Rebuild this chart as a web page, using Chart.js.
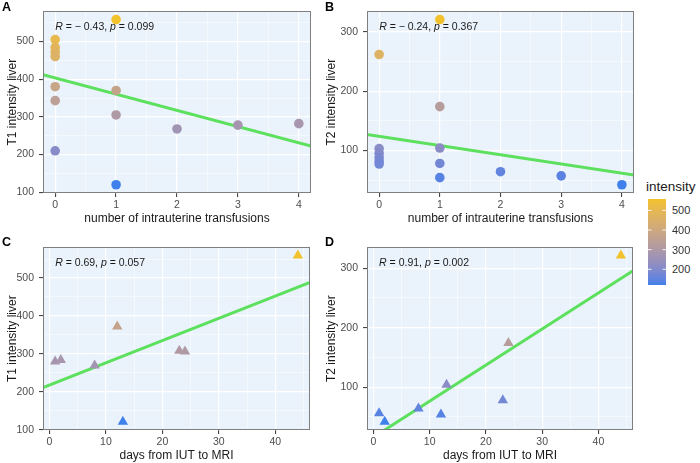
<!DOCTYPE html>
<html>
<head>
<meta charset="utf-8">
<script src="https://cdn.jsdelivr.net/npm/chart.js@4.4.1/dist/chart.umd.min.js"></script>
<style>
  html, body { margin: 0; padding: 0; background: #fff; }
  #wrap { position: relative; width: 700px; height: 463px; overflow: hidden;
          font-family: "Liberation Sans", Arial, sans-serif; }
  canvas.panel { position: absolute; }
  .tag { position: absolute; font-weight: bold; font-size: 12.5px; line-height: 1; color: #000; }
  .legTitle { position: absolute; left: 646px; top: 180px; font-size: 13.5px; line-height: 1; color: #1a1a1a; }
  .legLab { position: absolute; left: 672px; font-size: 11px; line-height: 1; color: #333; transform: translateY(-50%); }
  #legBar { position: absolute; left: 648px; top: 199px; }
</style>
</head>
<body>
<div id="wrap">
  <canvas id="cA" class="panel"></canvas>
  <canvas id="cB" class="panel"></canvas>
  <canvas id="cC" class="panel"></canvas>
  <canvas id="cD" class="panel"></canvas>
  <div class="tag" style="left:2px;top:1px">A</div>
  <div class="tag" style="left:325px;top:1px">B</div>
  <div class="tag" style="left:2px;top:236px">C</div>
  <div class="tag" style="left:325px;top:236px">D</div>
  <div class="legTitle">intensity</div>
  <canvas id="legBar" width="18" height="86"></canvas>
</div>
<script>
// ---- data ----
const transfusionsT1 = [0, 0, 0, 0, 0, 0, 0, 1, 1, 1, 1, 2, 3, 4];
const t1ByTransfusions = [505, 484, 472, 460, 380, 343, 210, 558, 370, 305, 120, 268, 278, 282];
const transfusionsT2 = [0, 0, 0, 0, 0, 0, 1, 1, 1, 1, 1, 2, 3, 4];
const t2ByTransfusions = [262, 103, 95, 88, 82, 77, 321, 174, 104, 78, 54, 64, 57, 42];
const daysT1 = [1, 2, 8, 12, 13, 23, 24, 44];
const t1ByDays = [280, 284, 269, 372, 121, 308, 306, 559];
const daysT2 = [1, 2, 8, 12, 13, 23, 24, 44];
const t2ByDays = [56, 42, 64, 54, 104, 78, 174, 321];

// regression lines as drawn: [intercept, slope]
const fitA = [403, -43];
const fitB = [123.6, -15.5];
const fitC = [217.5, 5.87];
const fitD = [16, 6.06];

const corrR = ["\u2212 0.43", "\u2212 0.24", "0.69", "0.91"];
const corrP = ["0.099", "0.367", "0.057", "0.002"];

const countTicks = [0, 1, 2, 3, 4];
const dayTicks = [0, 10, 20, 30, 40];
const t1Ticks = [100, 200, 300, 400, 500];
const t2Ticks = [100, 200, 300];
const legendTicks = [200, 300, 400, 500];

// ---- colour ramp (interpolated in Lab like ggplot) ----
const LOW = "#3F80EA", HIGH = "#F2C22C";
function hexRgb(h) {
  return [1, 3, 5].map(i => parseInt(h.substr(i, 2), 16) / 255);
}
function toLab(rgb) {
  const [r, g, b] = rgb.map(c => c <= 0.04045 ? c / 12.92 : Math.pow((c + 0.055) / 1.055, 2.4));
  const X = (0.4124 * r + 0.3576 * g + 0.1805 * b) / 0.95047;
  const Y = 0.2126 * r + 0.7152 * g + 0.0722 * b;
  const Z = (0.0193 * r + 0.1192 * g + 0.9505 * b) / 1.08883;
  const f = t => t > 0.008856 ? Math.cbrt(t) : 7.787 * t + 16 / 116;
  return [116 * f(Y) - 16, 500 * (f(X) - f(Y)), 200 * (f(Y) - f(Z))];
}
function fromLab([L, a, bb]) {
  const fy = (L + 16) / 116, fx = fy + a / 500, fz = fy - bb / 200;
  const inv = t => t * t * t > 0.008856 ? t * t * t : (t - 16 / 116) / 7.787;
  const X = inv(fx) * 0.95047, Y = inv(fy), Z = inv(fz) * 1.08883;
  let r = 3.2406 * X - 1.5372 * Y - 0.4986 * Z;
  let g = -0.9689 * X + 1.8758 * Y + 0.0415 * Z;
  let b = 0.0557 * X - 0.2040 * Y + 1.0570 * Z;
  const gam = c => {
    c = c <= 0.0031308 ? 12.92 * c : 1.055 * Math.pow(c, 1 / 2.4) - 0.055;
    return Math.round(Math.min(1, Math.max(0, c)) * 255);
  };
  return "rgb(" + gam(r) + "," + gam(g) + "," + gam(b) + ")";
}
const labLow = toLab(hexRgb(LOW)), labHigh = toLab(hexRgb(HIGH));
function ramp(t) {
  t = Math.min(1, Math.max(0, t));
  return fromLab(labLow.map((v, i) => v + (labHigh[i] - v) * t));
}

// ---- helpers ----
function expand(vals) {
  const lo = Math.min(...vals), hi = Math.max(...vals), d = (hi - lo) * 0.05;
  return [lo - d, hi + d];
}
function withMinor(major, lo, hi) {
  const step = major[1] - major[0];
  const out = major.slice();
  for (let v = major[0] - step / 2; v <= major[major.length - 1] + step; v += step) out.push(v);
  return out.filter(v => v >= lo && v <= hi).sort((a, b) => a - b);
}

const fontFam = "'Liberation Sans', Arial, sans-serif";

const bgPlugin = {
  id: "panelBg",
  beforeDraw(chart) {
    const { ctx, chartArea: a } = chart;
    ctx.save();
    ctx.fillStyle = "#EAF3FC";
    ctx.fillRect(a.left, a.top, a.right - a.left, a.bottom - a.top);
    ctx.restore();
  },
  afterDraw(chart, args, opts) {
    const { ctx, chartArea: a } = chart;
    ctx.save();
    ctx.strokeStyle = "#7f7f7f";
    ctx.lineWidth = 1;
    ctx.strokeRect(Math.round(a.left) + 0.5, Math.round(a.top) + 0.5,
      Math.round(a.right - a.left) - 1, Math.round(a.bottom - a.top) - 1);
    // correlation label
    const parts = [["R", true], [" = " + opts.r + ", ", false], ["p", true], [" = " + opts.p, false]];
    let x = chart.scales.x.getPixelForValue(opts.x0);
    const y = a.top + 16;
    ctx.fillStyle = "#1a1a1a";
    ctx.textBaseline = "middle";
    parts.forEach(([t, it]) => {
      ctx.font = (it ? "italic " : "") + "10.5px " + fontFam;
      ctx.fillText(t, x, y);
      x += ctx.measureText(t).width;
    });
    ctx.restore();
  }
};

function makePanel(id, pos, xs, ys, shape, fit, xMajor, yMajor, xTitle, yTitle, k) {
  const cv = document.getElementById(id);
  cv.width = pos.w; cv.height = pos.h;
  cv.style.left = pos.left + "px"; cv.style.top = pos.top + "px";

  const [xmin, xmax] = expand(xs);
  const [ymin, ymax] = expand(ys);
  const lo = Math.min(...ys), hi = Math.max(...ys);
  const colours = ys.map(v => ramp((v - lo) / (hi - lo)));
  const xAll = withMinor(xMajor, xmin, xmax);
  const yAll = withMinor(yMajor, ymin, ymax);
  const isMajorX = v => xMajor.includes(v);
  const isMajorY = v => yMajor.includes(v);

  const gridOpts = isMajor => ({
    color: "#ffffff",
    lineWidth: c => (c.tick && isMajor(c.tick.value)) ? 1.2 : 0.5,
    tickColor: c => (c.tick && isMajor(c.tick.value)) ? "#333333" : "rgba(0,0,0,0)",
    tickWidth: 1,
    tickLength: 4,
    drawTicks: true
  });

  return new Chart(cv, {
    type: "scatter",
    data: {
      datasets: [
        {
          data: xs.map((x, i) => ({ x: x, y: ys[i] })),
          pointStyle: shape,
          pointRadius: shape === "triangle" ? 6 : 4.8,
          backgroundColor: colours,
          borderWidth: 0,
          clip: false,
          order: 0
        },
        {
          data: [xmin, xmax].map(x => ({ x: x, y: fit[0] + fit[1] * x })),
          showLine: true,
          borderColor: "#5DE05D",
          borderWidth: 3,
          pointRadius: 0,
          clip: 0,
          order: 1
        }
      ]
    },
    options: {
      responsive: false,
      animation: false,
      events: [],
      layout: { padding: { top: 3, right: 5, left: 0, bottom: 0 } },
      plugins: {
        legend: { display: false },
        tooltip: { enabled: false },
        panelBg: { r: corrR[k], p: corrP[k], x0: Math.min(...xs) }
      },
      scales: {
        x: {
          type: "linear", min: xmin, max: xmax,
          afterBuildTicks: s => { s.ticks = xAll.map(v => ({ value: v })); },
          afterFit: s => { s.height = pos.xh; },
          ticks: {
            autoSkip: false, maxRotation: 0, padding: 2,
            color: "#4d4d4d", font: { family: fontFam, size: 10.5 },
            callback: v => isMajorX(v) ? String(v) : ""
          },
          grid: gridOpts(isMajorX),
          border: { display: false },
          title: { display: true, text: xTitle, color: "#1a1a1a",
                   font: { family: fontFam, size: 12 }, padding: { top: 0, bottom: pos.xpad } }
        },
        y: {
          type: "linear", min: ymin, max: ymax,
          afterBuildTicks: s => { s.ticks = yAll.map(v => ({ value: v })); },
          afterFit: s => { s.width = pos.yw; },
          ticks: {
            autoSkip: false, padding: 5,
            color: "#4d4d4d", font: { family: fontFam, size: 10.5 },
            callback: v => isMajorY(v) ? String(v) : ""
          },
          grid: gridOpts(isMajorY),
          border: { display: false },
          title: { display: true, text: yTitle, color: "#1a1a1a",
                   font: { family: fontFam, size: 12 }, padding: { top: pos.ypad, bottom: 0 } }
        }
      }
    },
    plugins: [bgPlugin]
  });
}

const posA = { left: 0, top: 0, w: 316, h: 228, yw: 43, xh: 35, xpad: 2, ypad: 5.5 };
const posB = { left: 323, top: 0, w: 316, h: 228, yw: 44, xh: 35, xpad: 2, ypad: 1.5 };
const posC = { left: 0, top: 236, w: 316, h: 227, yw: 43, xh: 33, xpad: 0, ypad: 5.5 };
const posD = { left: 323, top: 236, w: 316, h: 227, yw: 44, xh: 33, xpad: 0, ypad: 1.5 };

makePanel("cA", posA, transfusionsT1, t1ByTransfusions, "circle", fitA, countTicks, t1Ticks,
  "number of intrauterine transfusions", "T1 intensity liver", 0);
makePanel("cB", posB, transfusionsT2, t2ByTransfusions, "circle", fitB, countTicks, t2Ticks,
  "number of intrauterine transfusions", "T2 intensity liver", 1);
makePanel("cC", posC, daysT1, t1ByDays, "triangle", fitC, dayTicks, t1Ticks,
  "days from IUT to MRI", "T1 intensity liver", 2);
makePanel("cD", posD, daysT2, t2ByDays, "triangle", fitD, dayTicks, t2Ticks,
  "days from IUT to MRI", "T2 intensity liver", 3);

// ---- colour bar legend ----
(function () {
  const cv = document.getElementById("legBar");
  const ctx = cv.getContext("2d");
  const lo = Math.min(...t1ByTransfusions), hi = Math.max(...t1ByTransfusions);
  const H = cv.height, W = cv.width;
  for (let y = 0; y < H; y++) {
    ctx.fillStyle = ramp(1 - (y + 0.5) / H);
    ctx.fillRect(0, y, W, 1);
  }
  const wrap = document.getElementById("wrap");
  legendTicks.forEach(v => {
    const py = (hi - v) / (hi - lo) * H;
    ctx.strokeStyle = "rgba(255,255,255,0.9)";
    ctx.lineWidth = 1;
    ctx.beginPath();
    ctx.moveTo(0, py); ctx.lineTo(3.5, py);
    ctx.moveTo(W - 3.5, py); ctx.lineTo(W, py);
    ctx.stroke();
    const d = document.createElement("div");
    d.className = "legLab";
    d.style.top = (199 + py) + "px";
    d.textContent = String(v);
    wrap.appendChild(d);
  });
})();
</script>
</body>
</html>
